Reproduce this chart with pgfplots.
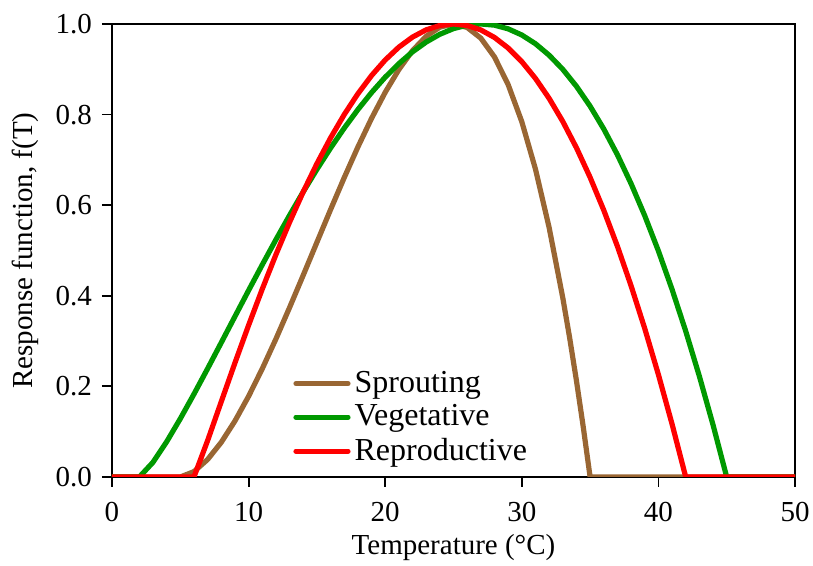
\documentclass[border=0pt]{standalone}
\usepackage{pgfplots}
\pgfplotsset{compat=1.18}
\usepackage{fontspec}
\setmainfont{Liberation Serif}
\definecolor{cbrown}{RGB}{153,102,51}
\definecolor{cgreen}{RGB}{0,153,0}
\definecolor{cred}{RGB}{255,0,0}
\begin{document}
\fontsize{14.5}{16.5}\selectfont
\begin{tikzpicture}
\path[use as bounding box] (-56pt,-44.5pt) rectangle (350.5pt,238.5pt);
\begin{axis}[
  scale only axis,
  width=341.5pt, height=226.5pt,
  xmin=0, xmax=50, ymin=0, ymax=1,
  xtick={0,10,20,30,40,50},
  ytick={0,0.2,0.4,0.6,0.8,1.0},
  xtick pos=bottom, ytick pos=left,
  tick align=outside,
  major tick length=5pt,
  axis line style={line width=0.9pt},
  every tick/.style={black, line width=0.9pt},
  /pgf/number format/assume math mode=true,
  yticklabel style={/pgf/number format/.cd, fixed, fixed zerofill, precision=1},
  xticklabel style={yshift=-2.5pt},
  ticklabel style={font=\fontsize{14.5}{16.5}\selectfont},
  xlabel={Temperature (°C)},
  ylabel={Response function, f(T)},
  label style={font=\fontsize{14.5}{16.5}\selectfont},
  xlabel style={at={(axis description cs:0.5,-0.170)}, anchor=base},
  ylabel style={at={(axis description cs:-0.117,0.5)}, anchor=base},
  legend style={at={(axis description cs:0.265,0.244)}, anchor=north west,
    draw=none, fill=none, font=\fontsize{16}{16.5}\selectfont,
    row sep=0pt, inner sep=0pt, cells={anchor=west}},
  legend cell align=left,
  legend image code/.code={\draw[#1, line cap=round] (0pt,0pt) -- (26pt,0pt);},
  every axis plot/.append style={line width=2.6pt, line join=round},
]
\addplot[cbrown] coordinates {
(0,0) (5,0) (6,0.0119) (7,0.0387) (8,0.0766) (9,0.1236) (10,0.1782)
(11,0.2390) (12,0.3047) (13,0.3741) (14,0.4455) (15,0.5180) (16,0.5902)
(17,0.6608) (18,0.7284) (19,0.7916) (20,0.8491) (21,0.8994) (22,0.9412)
(23,0.9728) (24,0.9930) (25,1.0000) (26,0.9924) (27,0.9687) (28,0.9272)
(29,0.8662) (30,0.7843) (31,0.6797) (32,0.5507) (33,0.3956) (33.5,0.3077)
(34,0.2126) (34.5,0.1102) (35,0) (42,0) (50,0)};
\addlegendentry{Sprouting}
\addplot[cgreen] coordinates {
(0,0) (2,0) (3,0.0324) (4,0.0777) (5,0.1287) (6,0.1830) (7,0.2393)
(8,0.2967) (9,0.3544) (10,0.4119) (11,0.4685) (12,0.5239) (13,0.5777)
(14,0.6296) (15,0.6791) (16,0.7261) (17,0.7701) (18,0.8110) (19,0.8486)
(20,0.8825) (21,0.9125) (22,0.9385) (23,0.9601) (24,0.9773) (25,0.9898)
(26,0.9974) (27,1.0000) (28,0.9974) (29,0.9893) (30,0.9757) (31,0.9564)
(32,0.9311) (33,0.8999) (34,0.8624) (35,0.8186) (36,0.7682) (37,0.7113)
(38,0.6475) (39,0.5768) (40,0.4991) (41,0.4141) (42,0.3219) (43,0.2223)
(44,0.1150) (45,0) (50,0)};
\addlegendentry{Vegetative}
\addplot[cred] coordinates {
(0,0) (6,0) (7,0.0804) (8,0.1664) (9,0.2519) (10,0.3350) (11,0.4149)
(12,0.4909) (13,0.5625) (14,0.6295) (15,0.6916) (16,0.7485) (17,0.8000)
(18,0.8460) (19,0.8862) (20,0.9205) (21,0.9489) (22,0.9711) (23,0.9871)
(24,0.9968) (25,1.0000) (26,0.9967) (27,0.9869) (28,0.9703) (29,0.9470)
(30,0.9169) (31,0.8798) (32,0.8358) (33,0.7848) (34,0.7267) (35,0.6614)
(36,0.5889) (37,0.5092) (38,0.4221) (39,0.3278) (40,0.2260) (41,0.1168)
(42,0) (50,0)};
\addlegendentry{Reproductive}
\end{axis}
\end{tikzpicture}
\end{document}
